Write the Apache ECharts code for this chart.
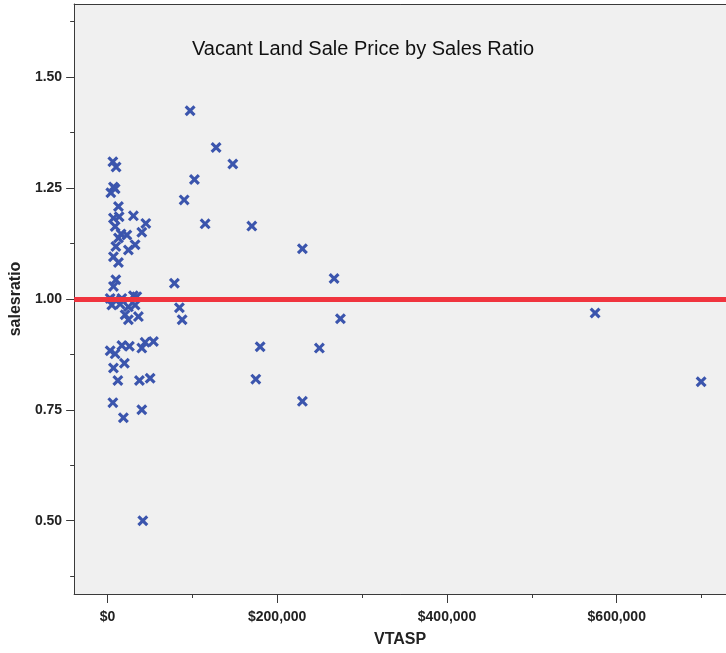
<!DOCTYPE html>
<html>
<head>
<meta charset="utf-8">
<script src="https://cdn.jsdelivr.net/npm/echarts@6/dist/echarts.min.js"></script>
<style>
  html, body { margin: 0; padding: 0; background: #ffffff; }
  #chart { width: 726px; height: 653px; }
</style>
</head>
<body>
<div id="chart"></div>
<script>
// sale price (VTASP, dollars) and sales ratio
var vtasp = [
  6400, 10200, 7100, 4000, 9100, 13000, 30600, 45200, 7100, 13800,
  9100, 40500, 22900, 16100, 13000, 32600, 9900, 24700, 7100, 13000,
  9900, 7100, 3200, 9100, 17000, 30600, 34600, 5200, 15000, 24700,
  32600, 20800, 36500, 24700, 3200, 9100, 17000, 25900, 40500, 44400,
  54200, 7100, 20000, 12300, 37700, 50300, 6400, 18800, 40500, 41700,
  78900, 84800, 88000, 97400, 128000, 147700, 102500, 90400, 115100, 170100,
  229700, 267000, 274500, 179900, 249700, 174800, 229700, 574500, 699400
];
var salesratio = [
  1.309, 1.297, 1.252, 1.239, 1.248, 1.208, 1.187, 1.170, 1.182, 1.185,
  1.163, 1.150, 1.144, 1.146, 1.137, 1.122, 1.118, 1.110, 1.095, 1.082,
  1.043, 1.028, 1.001, 0.998, 1.001, 1.007, 1.005, 0.986, 0.988, 0.982,
  0.986, 0.964, 0.960, 0.953, 0.883, 0.876, 0.895, 0.893, 0.889, 0.902,
  0.904, 0.844, 0.855, 0.816, 0.816, 0.821, 0.766, 0.732, 0.750, 0.500,
  1.035, 0.980, 0.953, 1.424, 1.341, 1.304, 1.269, 1.223, 1.169, 1.164,
  1.113, 1.046, 0.955, 0.892, 0.889, 0.819, 0.769, 0.968, 0.813
];
var refRatio = 1.0;

var xMajorTicks = [0, 200000, 400000, 600000];
var xMinorTicks = [100000, 300000, 500000, 700000];
var yMajorTicks = [0.5, 0.75, 1.0, 1.25, 1.5];
var yMinorTicks = [0.375, 0.625, 0.875, 1.125, 1.375, 1.625];

// plot runs past the right edge of the picture, so no right border
var X_MIN = -39200, X_MAX = 728700;
var Y_MIN = 0.3348, Y_MAX = 1.6645;

var FONT = '"Liberation Sans", Arial, sans-serif';
var AXIS_COLOR = '#3a3a3a';
var MARK_COLOR = '#3b55ad';
var XMARK = 'path://M0,2 L2,0 L5,3 L8,0 L10,2 L7,5 L10,8 L8,10 L5,7 L2,10 L0,8 L3,5 Z';

function money(v) {
  return '$' + Math.round(v).toLocaleString('en-US');
}

function plainAxis(pos, min, max) {
  return {
    type: 'value',
    position: pos,
    min: min,
    max: max,
    axisLine: { show: false, onZero: false },
    axisTick: { show: false },
    axisLabel: { show: false },
    splitLine: { show: false }
  };
}

var points = vtasp.map(function (v, i) { return [v, salesratio[i]]; });

var xMinor = plainAxis('bottom', X_MIN, X_MAX);
xMinor.axisTick = { show: true, length: 4, customValues: xMinorTicks, lineStyle: { color: AXIS_COLOR } };

var xTop = plainAxis('top', X_MIN, X_MAX);
xTop.axisLine = { show: true, onZero: false, lineStyle: { color: AXIS_COLOR, width: 1 } };

var yMinor = plainAxis('left', Y_MIN, Y_MAX);
yMinor.axisTick = { show: true, length: 4, customValues: yMinorTicks, lineStyle: { color: AXIS_COLOR } };

var chart = echarts.init(document.getElementById('chart'), null, { renderer: 'canvas' });

chart.setOption({
  animation: false,
  backgroundColor: '#ffffff',
  title: {
    text: 'Vacant Land Sale Price by Sales Ratio',
    left: 'center',
    top: 34,
    textStyle: { fontFamily: FONT, fontSize: 20, fontWeight: 'normal', color: '#111' }
  },
  grid: {
    left: 74, top: 4, right: 0, bottom: 59,
    show: true,
    backgroundColor: '#f0f0f0',
    borderWidth: 0
  },
  xAxis: [
    {
      type: 'value',
      position: 'bottom',
      min: X_MIN,
      max: X_MAX,
      name: 'VTASP',
      nameLocation: 'middle',
      nameGap: 38,
      nameTextStyle: { fontFamily: FONT, fontSize: 16, fontWeight: 'bold', color: '#222' },
      axisLine: { show: true, onZero: false, lineStyle: { color: AXIS_COLOR, width: 1 } },
      axisTick: { show: true, length: 9, customValues: xMajorTicks, lineStyle: { color: AXIS_COLOR } },
      axisLabel: {
        customValues: xMajorTicks,
        margin: 16,
        fontFamily: FONT, fontSize: 14, fontWeight: 'bold', color: '#222',
        formatter: money
      },
      splitLine: { show: false }
    },
    xMinor,
    xTop
  ],
  yAxis: [
    {
      type: 'value',
      position: 'left',
      min: Y_MIN,
      max: Y_MAX,
      name: 'salesratio',
      nameLocation: 'middle',
      nameGap: 50,
      nameTextStyle: { fontFamily: FONT, fontSize: 16, fontWeight: 'bold', color: '#222' },
      axisLine: { show: true, onZero: false, lineStyle: { color: AXIS_COLOR, width: 1 } },
      axisTick: { show: true, length: 8, customValues: yMajorTicks, lineStyle: { color: AXIS_COLOR } },
      axisLabel: {
        customValues: yMajorTicks,
        margin: 12,
        fontFamily: FONT, fontSize: 14, fontWeight: 'bold', color: '#222',
        formatter: function (v) { return v.toFixed(2); }
      },
      splitLine: { show: false }
    },
    yMinor
  ],
  series: [
    {
      type: 'scatter',
      xAxisIndex: 0,
      yAxisIndex: 0,
      data: points,
      symbol: XMARK,
      symbolSize: 11,
      itemStyle: { color: MARK_COLOR, opacity: 1 },
      markLine: {
        silent: true,
        symbol: ['none', 'none'],
        label: { show: false },
        lineStyle: { color: '#f0343e', width: 5, type: 'solid', opacity: 1 },
        data: [{ yAxis: refRatio }]
      }
    }
  ]
});
</script>
</body>
</html>
